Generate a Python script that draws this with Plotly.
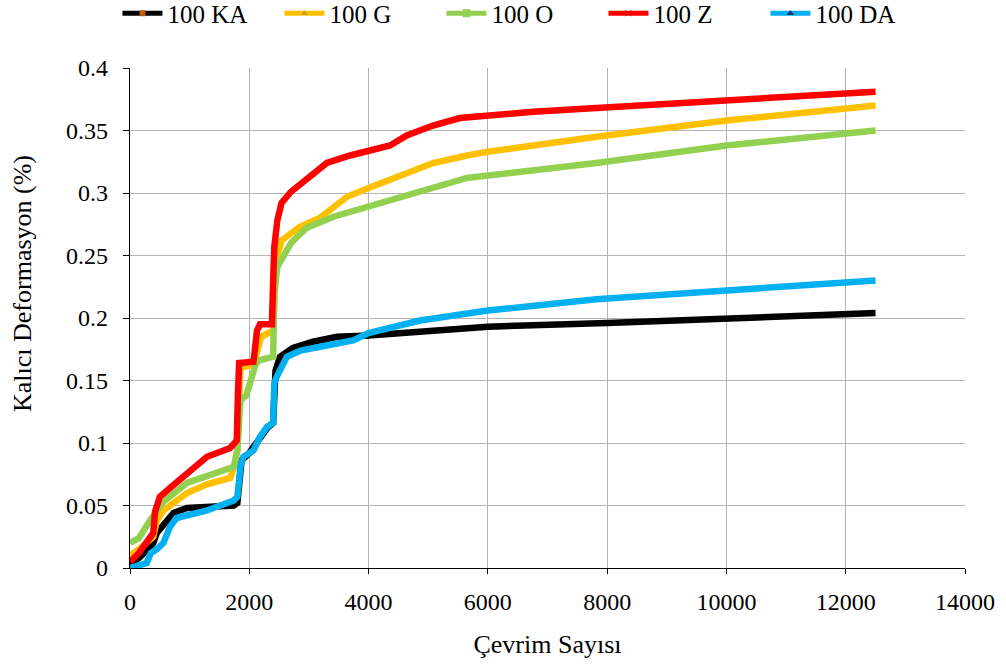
import plotly.graph_objects as go

ka_x = [0, 150, 300, 390, 450, 550, 615, 730, 955, 1290, 1740, 1800, 1830, 1870, 2000, 2180, 2300, 2400, 2420, 2440, 2515, 2730, 3070, 3470, 4000, 4860, 6000, 8000, 10000, 12500]
ka_y = [0.003, 0.008, 0.015, 0.02, 0.028, 0.034, 0.038, 0.044, 0.048, 0.049, 0.05, 0.052, 0.07, 0.086, 0.092, 0.105, 0.112, 0.116, 0.14, 0.158, 0.169, 0.176, 0.181, 0.185, 0.186, 0.189, 0.193, 0.196, 0.199, 0.204]

g_x = [0, 150, 390, 450, 560, 955, 1290, 1680, 1750, 1800, 1850, 2000, 2100, 2200, 2400, 2420, 2450, 2540, 2850, 3180, 3410, 3640, 4000, 4530, 5080, 5650, 6000, 6760, 7820, 10000, 12500]
g_y = [0.01, 0.015, 0.025, 0.038, 0.046, 0.06, 0.067, 0.072, 0.082, 0.094, 0.16, 0.162, 0.168, 0.185, 0.19, 0.235, 0.246, 0.262, 0.273, 0.28, 0.289, 0.297, 0.304, 0.314, 0.324, 0.33, 0.333, 0.338, 0.345, 0.358, 0.37]

o_x = [0, 150, 335, 450, 560, 955, 1290, 1740, 1800, 1850, 1950, 2050, 2100, 2150, 2400, 2420, 2470, 2700, 2960, 3410, 4000, 4530, 5080, 5650, 6000, 6760, 7820, 10000, 12500]
o_y = [0.02, 0.024, 0.038, 0.046, 0.053, 0.068, 0.073, 0.081, 0.094, 0.134, 0.138, 0.156, 0.162, 0.166, 0.169, 0.22, 0.241, 0.26, 0.272, 0.281, 0.289, 0.297, 0.304, 0.312, 0.314, 0.318, 0.324, 0.338, 0.35]

z_x = [0, 150, 300, 390, 420, 500, 670, 955, 1290, 1680, 1790, 1810, 1830, 2070, 2130, 2180, 2380, 2400, 2420, 2470, 2540, 2700, 2850, 3070, 3300, 3690, 4000, 4360, 4640, 5080, 5530, 6000, 6760, 7820, 10000, 12500]
z_y = [0.005, 0.012, 0.022, 0.028, 0.045, 0.057, 0.064, 0.076, 0.089, 0.096, 0.102, 0.14, 0.164, 0.165, 0.19, 0.195, 0.195, 0.23, 0.257, 0.278, 0.292, 0.301, 0.307, 0.316, 0.324, 0.33, 0.334, 0.338, 0.346, 0.354, 0.36, 0.362, 0.365, 0.368, 0.374, 0.381]

da_x = [0, 150, 280, 350, 450, 560, 670, 780, 955, 1290, 1740, 1800, 1830, 1850, 1900, 2070, 2180, 2300, 2400, 2420, 2460, 2630, 2860, 3190, 3740, 4000, 4310, 4860, 6000, 7820, 10000, 12500]
da_y = [0, 0.002, 0.004, 0.012, 0.015, 0.02, 0.033, 0.04, 0.042, 0.046, 0.054, 0.057, 0.07, 0.081, 0.089, 0.094, 0.105, 0.113, 0.116, 0.148, 0.153, 0.169, 0.174, 0.177, 0.182, 0.188, 0.192, 0.198, 0.206, 0.215, 0.222, 0.23]

series = [
    ("100 KA", ka_x, ka_y, "#000000", "square", "#C55A11", 5),
    ("100 G", g_x, g_y, "#FFC000", "triangle-up", "#C9A227", 5),
    ("100 O", o_x, o_y, "#92D050", "square", "#92D050", 7),
    ("100 Z", z_x, z_y, "#FF0000", "x-thin", "#C00000", 6),
    ("100 DA", da_x, da_y, "#00B0F0", "triangle-up", "#1F3864", 5),
]

fig = go.Figure()
for name, xs, ys, col, sym, mcol, msize in series:
    fig.add_trace(go.Scatter(x=xs, y=ys, mode="lines", name=name, showlegend=False,
                             line=dict(color=col, width=6.5)))
for name, xs, ys, col, sym, mcol, msize in series:
    fig.add_trace(go.Scatter(x=[None], y=[None], mode="lines+markers", name=name,
                             line=dict(color=col, width=5),
                             marker=dict(symbol=sym, color=mcol, size=msize,
                                         line=dict(color=mcol, width=1))))

font = "Liberation Serif"
fig.update_layout(
    width=1006, height=664,
    margin=dict(l=130, r=41, t=68, b=96, autoexpand=False),
    paper_bgcolor="white", plot_bgcolor="white",
    font=dict(family=font, size=24, color="black"),
    legend=dict(orientation="h", x=-0.015, xanchor="left", y=1.155, yanchor="top",
                font=dict(family=font, size=25, color="black"),
                itemwidth=40, entrywidth=107, tracegroupgap=0),
    showlegend=True,
    annotations=[dict(text="Kalıcı Deformasyon (%)", textangle=-90,
                      xref="paper", yref="paper", x=(22 - 130) / 835, y=(568 - 284) / 500,
                      xanchor="center", yanchor="middle", showarrow=False,
                      font=dict(family=font, size=26, color="black"))],
)
fig.update_xaxes(range=[0, 14000], dtick=2000, tick0=0, tickformat="d",
                 showgrid=True, gridcolor="#b4b4b4", gridwidth=1.3,
                 showline=True, linecolor="black", linewidth=1.3,
                 ticks="outside", ticklen=5, tickcolor="black",
                 ticklabelstandoff=7,
                 zeroline=False,
                 title=dict(text="Çevrim Sayısı", font=dict(family=font, size=26), standoff=20))
fig.update_yaxes(range=[0, 0.4], dtick=0.05, tick0=0,
                 showgrid=True, gridcolor="#b4b4b4", gridwidth=1.3,
                 showline=True, linecolor="black", linewidth=1.3,
                 ticks="outside", ticklen=6, tickcolor="black",
                 ticklabelstandoff=10,
                 zeroline=False)

fig.write_html("out.html")
